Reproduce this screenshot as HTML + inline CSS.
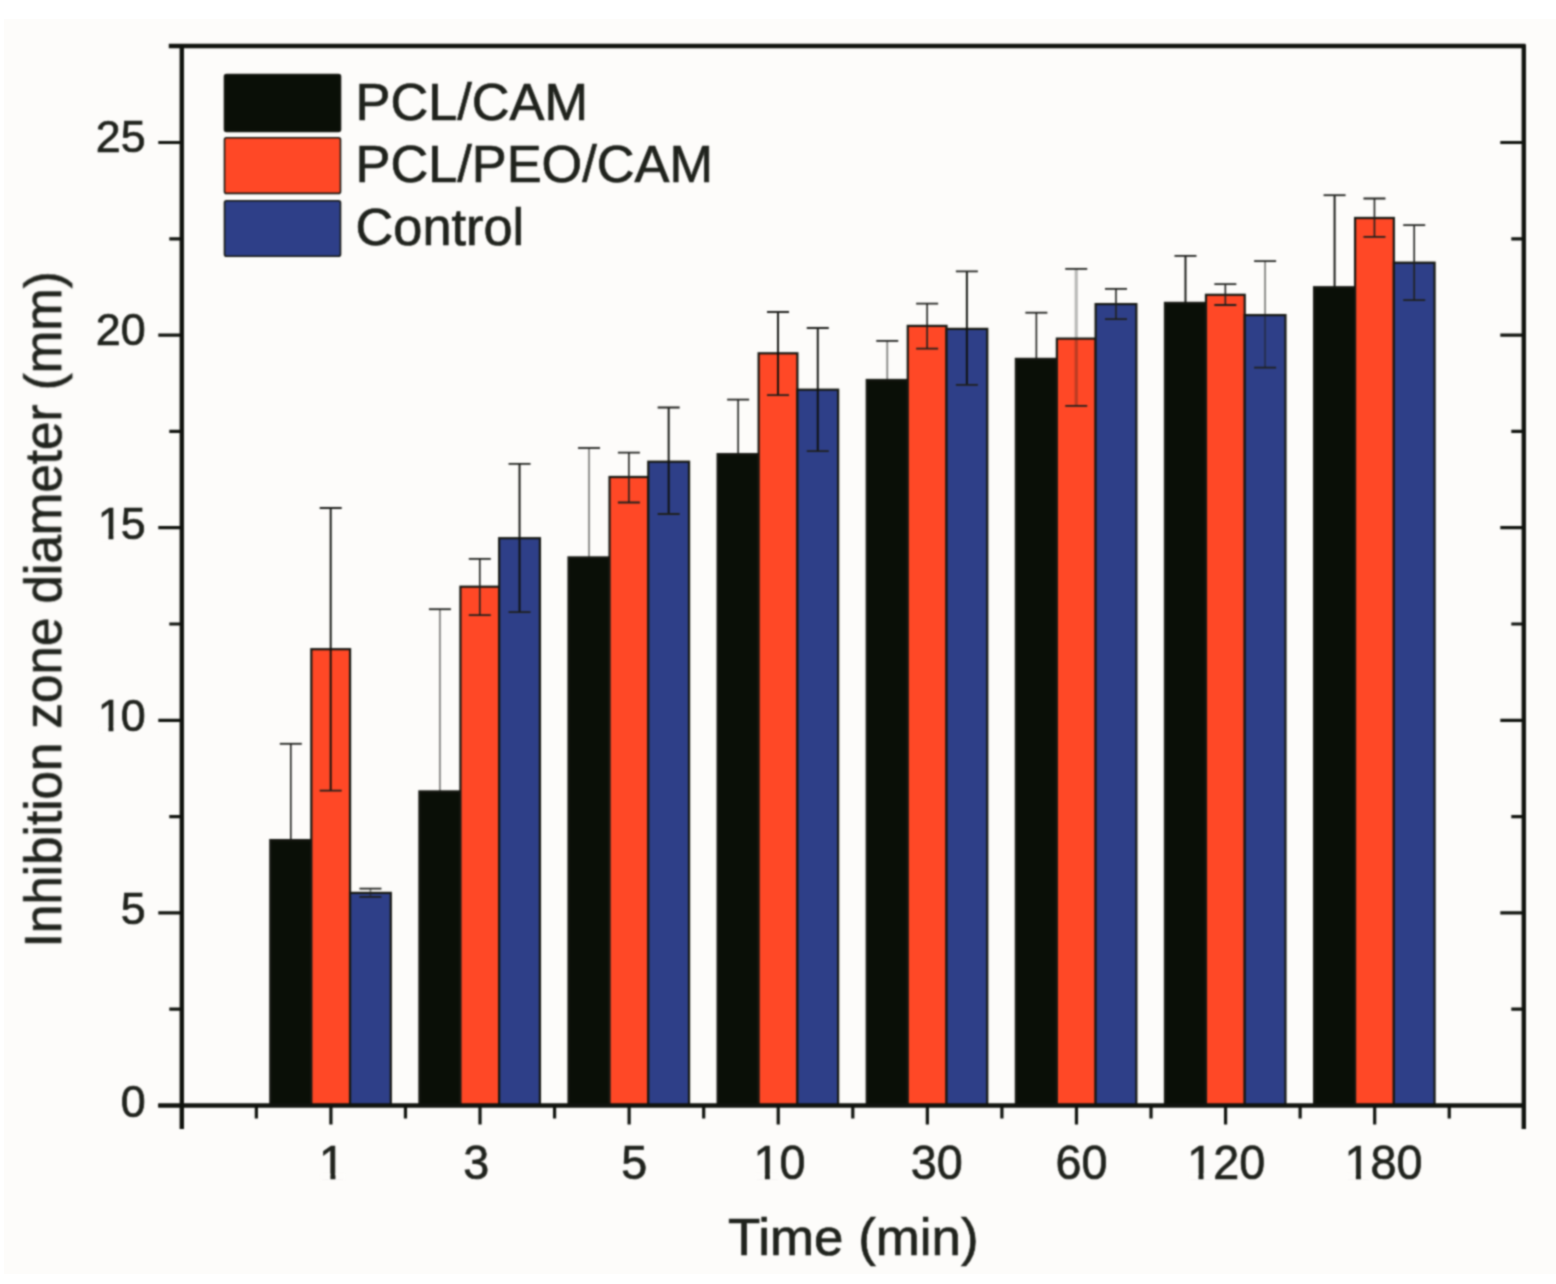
<!DOCTYPE html>
<html><head><meta charset="utf-8"><title>Inhibition zone diameter vs time</title>
<style>html,body{margin:0;padding:0;background:#fff;}svg{display:block;}text{font-family:"Liberation Sans",Arial,Helvetica,sans-serif;fill:#1f221c;stroke:#1f221c;stroke-width:0.7px;}</style></head><body>
<svg width="1556" height="1284" viewBox="0 0 1556 1284">
<defs><filter id="soft" x="0" y="0" width="1556" height="1284" filterUnits="userSpaceOnUse" color-interpolation-filters="sRGB"><feConvolveMatrix order="5" kernelMatrix="0.00087 0.00695 0.01388 0.00695 0.00087 0.00695 0.05540 0.11068 0.05540 0.00695 0.01388 0.11068 0.22111 0.11068 0.01388 0.00695 0.05540 0.11068 0.05540 0.00695 0.00087 0.00695 0.01388 0.00695 0.00087" divisor="1" edgeMode="none" preserveAlpha="false"/></filter></defs>
<rect x="0" y="0" width="1556" height="1284" fill="#ffffff"/>
<rect x="4" y="19" width="1552" height="1255" fill="#fdfcfa"/>
<g filter="url(#soft)">
<g stroke-linejoin="miter">
<rect x="270.31" y="840.10" width="41.00" height="265.40" fill="#0a0f07" stroke="#161812" stroke-width="2.2"/>
<rect x="311.31" y="649.20" width="38.75" height="456.30" fill="#ff4826" stroke="#161812" stroke-width="2.2"/>
<rect x="350.06" y="892.90" width="40.75" height="212.60" fill="#2e3f88" stroke="#161812" stroke-width="2.2"/>
<rect x="419.42" y="791.40" width="41.00" height="314.10" fill="#0a0f07" stroke="#161812" stroke-width="2.2"/>
<rect x="460.42" y="586.70" width="38.75" height="518.80" fill="#ff4826" stroke="#161812" stroke-width="2.2"/>
<rect x="499.17" y="538.20" width="40.75" height="567.30" fill="#2e3f88" stroke="#161812" stroke-width="2.2"/>
<rect x="568.53" y="557.40" width="41.00" height="548.10" fill="#0a0f07" stroke="#161812" stroke-width="2.2"/>
<rect x="609.53" y="477.00" width="38.75" height="628.50" fill="#ff4826" stroke="#161812" stroke-width="2.2"/>
<rect x="648.28" y="461.70" width="40.75" height="643.80" fill="#2e3f88" stroke="#161812" stroke-width="2.2"/>
<rect x="717.64" y="454.10" width="41.00" height="651.40" fill="#0a0f07" stroke="#161812" stroke-width="2.2"/>
<rect x="758.64" y="353.30" width="38.75" height="752.20" fill="#ff4826" stroke="#161812" stroke-width="2.2"/>
<rect x="797.39" y="389.70" width="40.75" height="715.80" fill="#2e3f88" stroke="#161812" stroke-width="2.2"/>
<rect x="866.76" y="380.00" width="41.00" height="725.50" fill="#0a0f07" stroke="#161812" stroke-width="2.2"/>
<rect x="907.76" y="325.90" width="38.75" height="779.60" fill="#ff4826" stroke="#161812" stroke-width="2.2"/>
<rect x="946.51" y="328.90" width="40.75" height="776.60" fill="#2e3f88" stroke="#161812" stroke-width="2.2"/>
<rect x="1015.87" y="358.90" width="41.00" height="746.60" fill="#0a0f07" stroke="#161812" stroke-width="2.2"/>
<rect x="1056.87" y="338.60" width="38.75" height="766.90" fill="#ff4826" stroke="#161812" stroke-width="2.2"/>
<rect x="1095.62" y="304.10" width="40.75" height="801.40" fill="#2e3f88" stroke="#161812" stroke-width="2.2"/>
<rect x="1164.98" y="302.90" width="41.00" height="802.60" fill="#0a0f07" stroke="#161812" stroke-width="2.2"/>
<rect x="1205.98" y="294.80" width="38.75" height="810.70" fill="#ff4826" stroke="#161812" stroke-width="2.2"/>
<rect x="1244.73" y="315.10" width="40.75" height="790.40" fill="#2e3f88" stroke="#161812" stroke-width="2.2"/>
<rect x="1314.09" y="287.20" width="41.00" height="818.30" fill="#0a0f07" stroke="#161812" stroke-width="2.2"/>
<rect x="1355.09" y="218.00" width="38.75" height="887.50" fill="#ff4826" stroke="#161812" stroke-width="2.2"/>
<rect x="1393.84" y="262.70" width="40.75" height="842.80" fill="#2e3f88" stroke="#161812" stroke-width="2.2"/>
</g>
<path d="M290.81 743.80V839.60" stroke="#1f201d" stroke-width="1.6" stroke-opacity="1.0" fill="none"/>
<path d="M279.81 743.80H301.81" stroke="#1f201d" stroke-width="1.8" fill="none"/>
<path d="M330.69 508.00V790.60" stroke="#0e100c" stroke-width="1.9" stroke-opacity="1.0" fill="none"/>
<path d="M319.69 508.00H341.69M319.69 790.60H341.69" stroke="#1f201d" stroke-width="1.8" fill="none"/>
<path d="M370.44 888.70V896.90" stroke="#1f201d" stroke-width="1.8" stroke-opacity="0.55" fill="none"/>
<path d="M359.44 888.70H381.44M359.44 896.90H381.44" stroke="#1f201d" stroke-width="1.8" fill="none"/>
<path d="M439.92 609.20V790.90" stroke="#1f201d" stroke-width="1.8" stroke-opacity="0.55" fill="none"/>
<path d="M428.92 609.20H450.92" stroke="#1f201d" stroke-width="1.8" fill="none"/>
<path d="M479.80 558.90V615.10" stroke="#1f201d" stroke-width="1.6" stroke-opacity="1.0" fill="none"/>
<path d="M468.80 558.90H490.80M468.80 615.10H490.80" stroke="#1f201d" stroke-width="1.8" fill="none"/>
<path d="M519.55 463.90V612.20" stroke="#0e100c" stroke-width="1.9" stroke-opacity="1.0" fill="none"/>
<path d="M508.55 463.90H530.55M508.55 612.20H530.55" stroke="#1f201d" stroke-width="1.8" fill="none"/>
<path d="M589.03 448.00V556.90" stroke="#1f201d" stroke-width="1.8" stroke-opacity="0.55" fill="none"/>
<path d="M578.03 448.00H600.03" stroke="#1f201d" stroke-width="1.8" fill="none"/>
<path d="M628.91 452.70V502.50" stroke="#1f201d" stroke-width="1.6" stroke-opacity="1.0" fill="none"/>
<path d="M617.91 452.70H639.91M617.91 502.50H639.91" stroke="#1f201d" stroke-width="1.8" fill="none"/>
<path d="M668.66 407.50V514.00" stroke="#0e100c" stroke-width="1.9" stroke-opacity="1.0" fill="none"/>
<path d="M657.66 407.50H679.66M657.66 514.00H679.66" stroke="#1f201d" stroke-width="1.8" fill="none"/>
<path d="M738.14 399.60V453.60" stroke="#1f201d" stroke-width="1.6" stroke-opacity="1.0" fill="none"/>
<path d="M727.14 399.60H749.14" stroke="#1f201d" stroke-width="1.8" fill="none"/>
<path d="M778.02 312.00V395.10" stroke="#0e100c" stroke-width="1.9" stroke-opacity="1.0" fill="none"/>
<path d="M767.02 312.00H789.02M767.02 395.10H789.02" stroke="#1f201d" stroke-width="1.8" fill="none"/>
<path d="M817.77 328.00V451.20" stroke="#0e100c" stroke-width="1.9" stroke-opacity="1.0" fill="none"/>
<path d="M806.77 328.00H828.77M806.77 451.20H828.77" stroke="#1f201d" stroke-width="1.8" fill="none"/>
<path d="M887.26 340.90V379.50" stroke="#1f201d" stroke-width="1.8" stroke-opacity="0.55" fill="none"/>
<path d="M876.26 340.90H898.26" stroke="#1f201d" stroke-width="1.8" fill="none"/>
<path d="M927.13 303.70V348.70" stroke="#1f201d" stroke-width="1.6" stroke-opacity="1.0" fill="none"/>
<path d="M916.13 303.70H938.13M916.13 348.70H938.13" stroke="#1f201d" stroke-width="1.8" fill="none"/>
<path d="M966.88 271.40V384.90" stroke="#0e100c" stroke-width="1.9" stroke-opacity="1.0" fill="none"/>
<path d="M955.88 271.40H977.88M955.88 384.90H977.88" stroke="#1f201d" stroke-width="1.8" fill="none"/>
<path d="M1036.37 312.70V358.40" stroke="#1f201d" stroke-width="1.6" stroke-opacity="1.0" fill="none"/>
<path d="M1025.37 312.70H1047.37" stroke="#1f201d" stroke-width="1.8" fill="none"/>
<path d="M1076.24 268.90V405.80" stroke="#1f201d" stroke-width="3.2" stroke-opacity="0.3" fill="none"/>
<path d="M1065.24 268.90H1087.24M1065.24 405.80H1087.24" stroke="#1f201d" stroke-width="1.8" fill="none"/>
<path d="M1115.99 288.90V319.10" stroke="#1f201d" stroke-width="1.6" stroke-opacity="1.0" fill="none"/>
<path d="M1104.99 288.90H1126.99M1104.99 319.10H1126.99" stroke="#1f201d" stroke-width="1.8" fill="none"/>
<path d="M1185.48 255.90V302.40" stroke="#0e100c" stroke-width="1.9" stroke-opacity="1.0" fill="none"/>
<path d="M1174.48 255.90H1196.48" stroke="#1f201d" stroke-width="1.8" fill="none"/>
<path d="M1225.35 284.10V305.00" stroke="#1f201d" stroke-width="1.6" stroke-opacity="1.0" fill="none"/>
<path d="M1214.35 284.10H1236.35M1214.35 305.00H1236.35" stroke="#1f201d" stroke-width="1.8" fill="none"/>
<path d="M1265.10 261.20V367.70" stroke="#1f201d" stroke-width="1.8" stroke-opacity="0.55" fill="none"/>
<path d="M1254.10 261.20H1276.10M1254.10 367.70H1276.10" stroke="#1f201d" stroke-width="1.8" fill="none"/>
<path d="M1334.59 195.20V286.70" stroke="#0e100c" stroke-width="1.9" stroke-opacity="1.0" fill="none"/>
<path d="M1323.59 195.20H1345.59" stroke="#1f201d" stroke-width="1.8" fill="none"/>
<path d="M1374.46 198.50V236.90" stroke="#1f201d" stroke-width="1.6" stroke-opacity="1.0" fill="none"/>
<path d="M1363.46 198.50H1385.46M1363.46 236.90H1385.46" stroke="#1f201d" stroke-width="1.8" fill="none"/>
<path d="M1414.21 225.20V300.10" stroke="#1f201d" stroke-width="1.6" stroke-opacity="1.0" fill="none"/>
<path d="M1403.21 225.20H1425.21M1403.21 300.10H1425.21" stroke="#1f201d" stroke-width="1.8" fill="none"/>
<g stroke="#10130e" fill="none" stroke-linecap="butt">
<path stroke-width="4.4" d="M181.8 44.4V1129.0M1523.8 44.4V1129.0M168.8 46.0H1525.3999999999999M158.3 1105.5H1525.3999999999999"/>
<path stroke-width="3.2" d="M158.3 1105.50H181.8M1500.3 1105.50H1523.8M158.3 912.90H181.8M1500.3 912.90H1523.8M158.3 720.30H181.8M1500.3 720.30H1523.8M158.3 527.70H181.8M1500.3 527.70H1523.8M158.3 335.10H181.8M1500.3 335.10H1523.8M158.3 142.50H181.8M1500.3 142.50H1523.8M169.3 1009.20H181.8M1511.3 1009.20H1523.8M169.3 816.60H181.8M1511.3 816.60H1523.8M169.3 624.00H181.8M1511.3 624.00H1523.8M169.3 431.40H181.8M1511.3 431.40H1523.8M169.3 238.80H181.8M1511.3 238.80H1523.8M169.3 46.20H181.8M1511.3 46.20H1523.8M330.91 1105.5V1124.6M480.02 1105.5V1124.6M629.13 1105.5V1124.6M778.24 1105.5V1124.6M927.36 1105.5V1124.6M1076.47 1105.5V1124.6M1225.58 1105.5V1124.6M1374.69 1105.5V1124.6M256.36 1105.5V1118.4M405.47 1105.5V1118.4M554.58 1105.5V1118.4M703.69 1105.5V1118.4M852.80 1105.5V1118.4M1001.91 1105.5V1118.4M1151.02 1105.5V1118.4M1300.13 1105.5V1118.4M1449.24 1105.5V1118.4"/>
</g>
<g transform="translate(145.70 1117.40) scale(1.03 1)">
<text x="0" y="0" font-size="43.5" text-anchor="end">0</text>
</g>
<g transform="translate(145.70 923.90) scale(1.03 1)">
<text x="0" y="0" font-size="43.5" text-anchor="end">5</text>
</g>
<g transform="translate(145.70 731.00) scale(1.03 1)">
<text x="-46.585 -24.193" y="0" font-size="43.5">10</text>
<rect x="-45.31" y="-4.85" width="9.21" height="6.05" fill="#fdfcfa"/>
<rect x="-31.35" y="-4.85" width="9.01" height="6.05" fill="#fdfcfa"/>
</g>
<g transform="translate(145.70 539.30) scale(1.03 1)">
<text x="-46.585 -24.193" y="0" font-size="43.5">15</text>
<rect x="-45.31" y="-4.85" width="9.21" height="6.05" fill="#fdfcfa"/>
<rect x="-31.35" y="-4.85" width="9.01" height="6.05" fill="#fdfcfa"/>
</g>
<g transform="translate(145.70 345.40) scale(1.03 1)">
<text x="0" y="0" font-size="43.5" text-anchor="end">20</text>
</g>
<g transform="translate(145.70 152.40) scale(1.03 1)">
<text x="0" y="0" font-size="43.5" text-anchor="end">25</text>
</g>
<g transform="translate(332.10 1178.70) scale(0.985 1)">
<text x="0" y="0" font-size="47.5" text-anchor="middle">1</text>
<rect x="-11.82" y="-5.15" width="10.10" height="6.35" fill="#fdfcfa"/>
<rect x="3.38" y="-5.15" width="9.83" height="6.35" fill="#fdfcfa"/>
</g>
<g transform="translate(476.20 1178.70) scale(0.985 1)">
<text x="0" y="0" font-size="47.5" text-anchor="middle">3</text>
</g>
<g transform="translate(634.30 1178.70) scale(0.985 1)">
<text x="0" y="0" font-size="47.5" text-anchor="middle">5</text>
</g>
<g transform="translate(779.60 1178.70) scale(0.985 1)">
<text x="0" y="0" font-size="47.5" text-anchor="middle">10</text>
<rect x="-25.03" y="-5.15" width="10.10" height="6.35" fill="#fdfcfa"/>
<rect x="-9.82" y="-5.15" width="9.83" height="6.35" fill="#fdfcfa"/>
</g>
<g transform="translate(936.70 1178.70) scale(0.985 1)">
<text x="0" y="0" font-size="47.5" text-anchor="middle">30</text>
</g>
<g transform="translate(1081.60 1178.70) scale(0.985 1)">
<text x="0" y="0" font-size="47.5" text-anchor="middle">60</text>
</g>
<g transform="translate(1226.20 1178.70) scale(0.985 1)">
<text x="0" y="0" font-size="47.5" text-anchor="middle">120</text>
<rect x="-38.23" y="-5.15" width="10.10" height="6.35" fill="#fdfcfa"/>
<rect x="-23.03" y="-5.15" width="9.83" height="6.35" fill="#fdfcfa"/>
</g>
<g transform="translate(1383.60 1178.70) scale(0.985 1)">
<text x="0" y="0" font-size="47.5" text-anchor="middle">180</text>
<rect x="-38.23" y="-5.15" width="10.10" height="6.35" fill="#fdfcfa"/>
<rect x="-23.03" y="-5.15" width="9.83" height="6.35" fill="#fdfcfa"/>
</g>
<g transform="translate(727.9 1255.0) scale(1.0076 1)"><text x="0" y="0" font-size="52.5">Time (min)</text></g>
<g transform="translate(61.2 947.3) rotate(-90) scale(1.0027 1)"><text x="0" y="0" font-size="51">Inhibition zone diameter (mm)</text></g>
<g stroke="#161812" stroke-width="1.6">
<rect x="224.5" y="74.5" width="116" height="57" rx="2" fill="#0a0f07"/>
<rect x="224.5" y="137.8" width="116" height="55.6" rx="2" fill="#ff4826"/>
<rect x="224.5" y="200.8" width="116" height="55.5" rx="2" fill="#2e3f88"/>
</g>
<g transform="translate(355.5 120.1) scale(1.026 1)"><text x="0" y="0" font-size="51">PCL/CAM</text></g>
<g transform="translate(355.5 182.3) scale(1.026 1)"><text x="0" y="0" font-size="51">PCL/PEO/CAM</text></g>
<g transform="translate(355.5 245.2) scale(1.026 1)"><text x="0" y="0" font-size="51">Control</text></g>
</g>
</svg></body></html>
